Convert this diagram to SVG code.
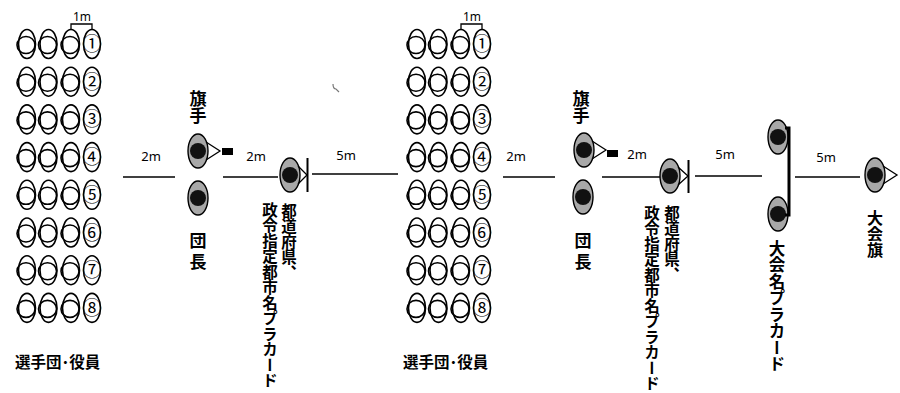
<svg xmlns="http://www.w3.org/2000/svg" xmlns:xlink="http://www.w3.org/1999/xlink" width="900" height="393" viewBox="0 0 900 393">
<style>
.o{fill:none;stroke:#000;stroke-width:1.6}
.ln{stroke:#000;stroke-width:1.3;fill:none}
.m{font-family:"Noto Sans","Liberation Sans",sans-serif;font-size:13px;fill:#000;text-anchor:middle}
.jp{font-family:"Noto Sans CJK JP",sans-serif;font-weight:bold;fill:#000}
.v{writing-mode:tb;font-family:"Noto Sans CJK JP",sans-serif;font-weight:bold;fill:#000}
.num{font-family:"Noto Sans CJK JP",sans-serif;font-size:19px;text-anchor:middle;fill:#000}
</style>
<defs>
<g id="p"><ellipse class="o" cx="0" cy="0" rx="8.5" ry="14.5"/><ellipse class="o" cx="-1" cy="1" rx="9" ry="8.5"/></g>
<g id="pn"><ellipse class="o" cx="0" cy="0" rx="8.5" ry="14.5"/></g>
<g id="f"><ellipse cx="0" cy="0" rx="10" ry="17" fill="#a8a8a8" stroke="#000" stroke-width="1.4"/><ellipse cx="0" cy="0" rx="8" ry="8" fill="#111"/></g>
<g id="row"><use xlink:href="#p" x="0"/><use xlink:href="#p" x="21.5"/><use xlink:href="#p" x="44"/><use xlink:href="#pn" x="65"/></g>
</defs>

<g id="group1">
<use xlink:href="#row" x="27" y="44"/>
<use xlink:href="#row" x="27" y="81.7"/>
<use xlink:href="#row" x="27" y="119.4"/>
<use xlink:href="#row" x="27" y="157.1"/>
<use xlink:href="#row" x="27" y="194.8"/>
<use xlink:href="#row" x="27" y="232.5"/>
<use xlink:href="#row" x="27" y="270.2"/>
<use xlink:href="#row" x="27" y="307.9"/>
<text class="num" x="92" y="51">①</text>
<text class="num" x="92" y="88.7">②</text>
<text class="num" x="92" y="126.4">③</text>
<text class="num" x="92" y="164.1">④</text>
<text class="num" x="92" y="201.8">⑤</text>
<text class="num" x="92" y="239.5">⑥</text>
<text class="num" x="92" y="277.2">⑦</text>
<text class="num" x="92" y="314.9">⑧</text>
<path class="ln" d="M71,29 V24 H92 V29"/>
<text class="m" x="82" y="21" style="font-size:12px">1m</text>
<text class="jp" x="15" y="368" style="font-size:15.5px">選手団･役員</text>
</g>

<g id="group2">
<use xlink:href="#row" x="417" y="44"/>
<use xlink:href="#row" x="417" y="81.7"/>
<use xlink:href="#row" x="417" y="119.4"/>
<use xlink:href="#row" x="417" y="157.1"/>
<use xlink:href="#row" x="417" y="194.8"/>
<use xlink:href="#row" x="417" y="232.5"/>
<use xlink:href="#row" x="417" y="270.2"/>
<use xlink:href="#row" x="417" y="307.9"/>
<text class="num" x="482" y="51">①</text>
<text class="num" x="482" y="88.7">②</text>
<text class="num" x="482" y="126.4">③</text>
<text class="num" x="482" y="164.1">④</text>
<text class="num" x="482" y="201.8">⑤</text>
<text class="num" x="482" y="239.5">⑥</text>
<text class="num" x="482" y="277.2">⑦</text>
<text class="num" x="482" y="314.9">⑧</text>
<path class="ln" d="M461,29 V24 H482 V29"/>
<text class="m" x="472" y="21" style="font-size:12px">1m</text>
<text class="jp" x="403" y="368" style="font-size:15.5px">選手団･役員</text>
</g>

<g id="flagbearer1">
<use xlink:href="#f" x="198" y="151"/>
<path class="ln" d="M206,142 L220,151 L206,160"/>
<rect x="222" y="148" width="11" height="7" fill="#000"/>
<text class="v" x="198" y="90" style="font-size:17px">旗手</text>
</g>
<g id="leader1">
<use xlink:href="#f" x="198" y="198"/>
<text class="v" x="198" y="232" style="font-size:17px;letter-spacing:4px">団長</text>
</g>
<g id="placard1">
<use xlink:href="#f" x="290" y="175"/>
<path class="ln" d="M298,166 L307,175 L298,184"/>
<line x1="307.5" y1="158" x2="307.5" y2="192" stroke="#000" stroke-width="2"/>
<text class="v" x="289" y="203" style="font-size:15.5px">都道府県、</text>
<text class="v" x="270" y="202" style="font-size:15.5px">政令指定都市名プラカード</text>
</g>

<g id="flagbearer2">
<use xlink:href="#f" x="584" y="150"/>
<path class="ln" d="M592,141 L606,150 L592,159"/>
<rect x="607" y="150" width="11" height="7" fill="#000"/>
<text class="v" x="581" y="90" style="font-size:17px">旗手</text>
</g>
<g id="leader2">
<use xlink:href="#f" x="583" y="197"/>
<text class="v" x="583" y="232" style="font-size:17px;letter-spacing:4px">団長</text>
</g>
<g id="placard2">
<use xlink:href="#f" x="670" y="176"/>
<path class="ln" d="M678,167 L688,176 L678,185"/>
<line x1="688.5" y1="160" x2="688.5" y2="193" stroke="#000" stroke-width="2"/>
<text class="v" x="672" y="205" style="font-size:15.5px">都道府県、</text>
<text class="v" x="652" y="205" style="font-size:15.5px">政令指定都市名プラカード</text>
</g>

<g id="eventplacard">
<use xlink:href="#f" x="778" y="137"/>
<use xlink:href="#f" x="778" y="214"/>
<path d="M785,128 H789 V215 H785" fill="none" stroke="#000" stroke-width="3"/>
<text class="v" x="777" y="240" style="font-size:16.5px">大会名プラカード</text>
</g>

<g id="eventflag">
<use xlink:href="#f" x="875" y="175"/>
<path class="ln" d="M883,166 L897,175 L883,184"/>
<text class="v" x="875" y="210" style="font-size:16px">大会旗</text>
</g>

<g id="connectors">
<line class="ln" x1="123" y1="177" x2="175" y2="177"/>
<line class="ln" x1="223" y1="177" x2="278" y2="177"/>
<line class="ln" x1="312" y1="174" x2="398" y2="174"/>
<line class="ln" x1="503" y1="177" x2="555" y2="177"/>
<line class="ln" x1="602" y1="177" x2="660" y2="177"/>
<line class="ln" x1="695" y1="176" x2="762" y2="176"/>
<line class="ln" x1="795" y1="177" x2="860" y2="177"/>
<text class="m" x="151" y="161">2m</text>
<text class="m" x="256" y="161">2m</text>
<text class="m" x="346" y="160">5m</text>
<text class="m" x="516" y="161">2m</text>
<text class="m" x="637" y="159">2m</text>
<text class="m" x="725" y="159">5m</text>
<text class="m" x="826" y="162">5m</text>
</g>
<path d="M333,84 Q333,89 336,89 L339,92" fill="none" stroke="#777" stroke-width="1.2"/>
</svg>
